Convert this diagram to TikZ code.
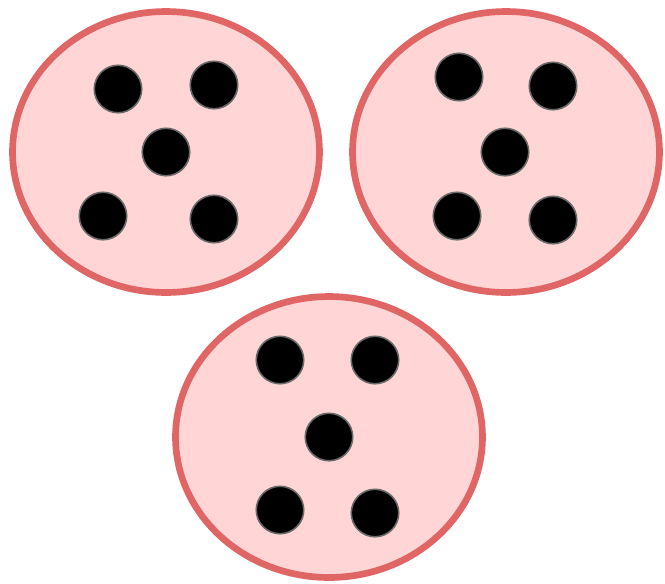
\documentclass[tikz,border=0pt]{standalone}
\usepackage{tikz}
\usetikzlibrary{shapes.geometric}
\definecolor{bagred}{HTML}{E06666}
\definecolor{bagfill}{HTML}{FFD5D5}
\definecolor{dotrim}{HTML}{6A6A6A}
\tikzset{
  bag/.style={ellipse, draw=bagred, fill=bagfill, line width=3.8pt, inner sep=0pt, minimum width=6.14cm, minimum height=5.62cm},
  pip/.style={circle, draw=dotrim, fill=black, line width=0.9pt, inner sep=0pt, minimum size=0.95cm}
}

\begin{document}
\begin{tikzpicture}[x=0.02cm,y=-0.02cm]
\useasboundingbox (0,0) rectangle (665,583);
\node[bag] at (166,152) (bagA) {};
\node[bag] at (506,152) (bagB) {};
\node[bag] at (329,437) (bagC) {};
% first bag
\node[pip] at (118,89) (a1) {};
\node[pip] at (214,85) (a2) {};
\node[pip] at (166,152) (a3) {};
\node[pip] at (103,216) (a4) {};
\node[pip] at (214,219) (a5) {};
% second bag
\node[pip] at (459,77) (b1) {};
\node[pip] at (553,86) (b2) {};
\node[pip] at (505,152) (b3) {};
\node[pip] at (457,216) (b4) {};
\node[pip] at (553,220) (b5) {};
% third bag
\node[pip] at (280,360) (c1) {};
\node[pip] at (375,360) (c2) {};
\node[pip] at (329,437) (c3) {};
\node[pip] at (280,510) (c4) {};
\node[pip] at (375,513) (c5) {};
\end{tikzpicture}
\end{document}
